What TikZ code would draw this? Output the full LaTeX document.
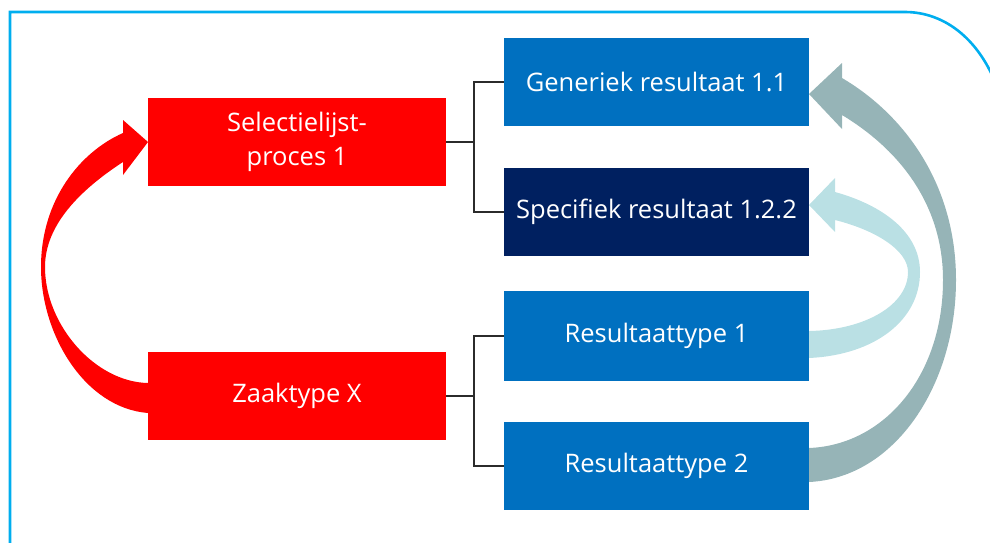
\documentclass[tikz,border=0pt]{standalone}
\usepackage{fontspec}
\setmainfont{Open Sans}
\definecolor{boxblue}{HTML}{0070C0}
\definecolor{boxnavy}{HTML}{002060}
\definecolor{boxred}{HTML}{FF0000}
\definecolor{arrgray}{HTML}{96B4B7}
\definecolor{arrlight}{HTML}{BAE0E4}
\definecolor{frameblue}{HTML}{00AEEF}
\definecolor{linegray}{HTML}{2B2B2B}
\begin{document}
\begin{tikzpicture}[x=1pt,y=-1pt,
  box/.style={minimum height=88pt, inner sep=0pt, text=white, font=\fontsize{25.5}{34}\selectfont, align=center},
  redbox/.style={box, fill=boxred, minimum width=298pt},
  bluebox/.style={box, fill=boxblue, minimum width=305pt},
  navybox/.style={box, fill=boxnavy, minimum width=305pt},
  conn/.style={draw=linegray, line width=2pt}
]
\useasboundingbox (0,0) rectangle (990,542);
% frame
\draw[frameblue, line width=2.6pt] (10,545) -- (10,12) -- (905,12) .. controls (945,12) and (982,40) .. (1000,95);

% curved arrows
\fill[boxred] (148,413) .. controls (85,408) and (41,335) .. (41,267)
  .. controls (41,200) and (80,152) .. (123,133)
  -- (123,120) -- (148,142) -- (123,175) -- (123,162)
  .. controls (80,190) and (45,225) .. (45,267)
  .. controls (45,325) and (95,382) .. (148,383) -- cycle;
\fill[arrgray] (809,482) .. controls (895,478) and (956,385) .. (956,280)
  .. controls (956,185) and (905,115) .. (842,78)
  -- (842,63) -- (809,94) -- (842,129) -- (842,115)
  .. controls (900,150) and (943,205) .. (943,280)
  .. controls (943,375) and (885,445) .. (809,448) -- cycle;
\fill[arrlight] (809,358) .. controls (875,355) and (920,320) .. (920,272)
  .. controls (920,232) and (882,205) .. (835,192)
  -- (835,178) -- (809,205) -- (835,232) -- (835,220)
  .. controls (875,230) and (908,250) .. (908,272)
  .. controls (908,305) and (865,330) .. (809,331) -- cycle;

% boxes
\node[redbox] (sel) at (297,142) {Selectielijst-\\proces 1};
\node[redbox] (zaak) at (297,396) {Zaaktype X};
\node[bluebox] (gen) at (656.5,82) {Generiek resultaat 1.1};
\node[navybox] (spec) at (656.5,211.5) {Specifiek resultaat 1.2.2};
\node[bluebox, minimum height=90pt] (r1) at (656.5,336) {Resultaattype 1};
\node[bluebox] (r2) at (656.5,465.5) {Resultaattype 2};

% connectors
\draw[conn] (sel.east) -- ++(28,0) coordinate (sj) |- (gen.west);
\draw[conn] (sj) |- (spec.west);
\draw[conn] (zaak.east) -- ++(28,0) coordinate (zj) |- (r1.west);
\draw[conn] (zj) |- (r2.west);
\end{tikzpicture}
\end{document}
